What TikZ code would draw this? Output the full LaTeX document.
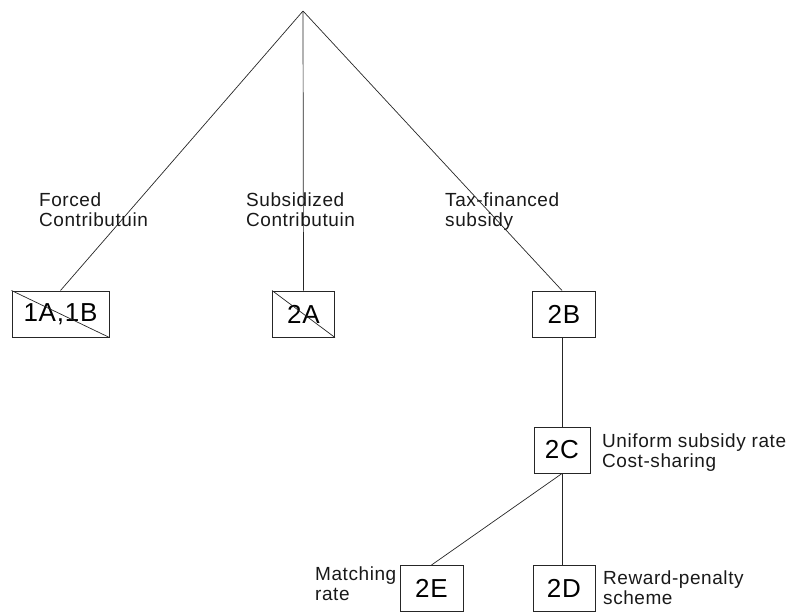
\documentclass[tikz,border=0pt]{standalone}
\usepackage{fontspec}
\setmainfont{Liberation Sans}[LetterSpace=3]
\begin{document}
\begin{tikzpicture}[x=1pt,y=-1pt,
  box/.style={draw=black!85, line width=1pt, inner sep=0pt, minimum height=46pt, font=\fontsize{26}{26}\selectfont},
  conn/.style={draw=black!85, line width=0.7pt},
  lbl/.style={anchor=base west, align=left, inner sep=0pt, font=\fontsize{19}{20}\selectfont, text=black!90}]
\useasboundingbox (0,0) rectangle (792,611);
\coordinate (apex) at (303,11);
\node[box, minimum width=97pt] (b1) at (60.5,314) {1A,1B};
\node[box, minimum width=62pt] (b2a) at (303.5,314) {2A};
\node[box, minimum width=63pt] (b2b) at (564,314) {2B};
\node[box, minimum width=56pt] (b2c) at (562,450) {2C};
\node[box, minimum width=62pt] (b2d) at (564,588.5) {2D};
\node[box, minimum width=63pt] (b2e) at (431.5,588.5) {2E};
\draw[conn] (apex) -- (b1.north);
\draw[conn] (apex) -- (b2a.north);
\draw[conn] (apex) -- (b2b.north -| b2c.north);
\draw[conn] (b1.north west) -- (b1.south east);
\draw[conn] (b2a.north west) -- (b2a.south east);
\draw[conn] (b2c.north) -- (b2c.north |- b2b.south);
\draw[conn] (b2c.south) -- (b2c.south |- b2d.north);
\draw[conn] (b2c.south) -- (b2e.north);
\node[lbl] (l1) at (39,226.7) {Forced\\Contributuin};
\node[lbl] (l2) at (246,226.7) {Subsidized\\Contributuin};
\node[lbl] (l3) at (445,226.7) {Tax-financed\\subsidy};
\node[lbl] (l4) at (602,467) {Uniform subsidy rate\\Cost-sharing};
\node[lbl] (l5) at (315,600.5) {Matching\\rate};
\node[lbl] (l6) at (603,604.5) {Reward-penalty\\scheme};
\end{tikzpicture}
\end{document}
